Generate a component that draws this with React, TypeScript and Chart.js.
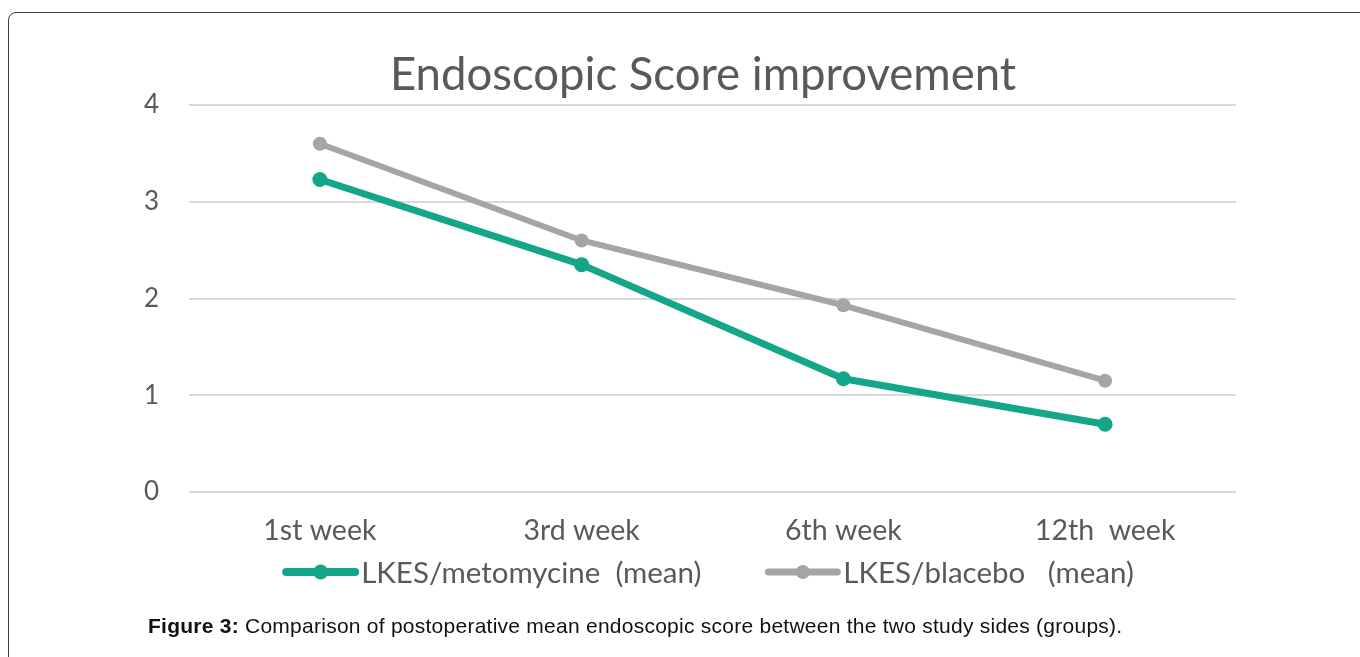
import React, { useEffect, useRef } from "react";
import { Chart, registerables } from "chart.js";

Chart.register(...registerables);

const TITLE = "Endoscopic Score improvement";
const CATEGORIES = ["1st week", "3rd week", "6th week", "12th  week"];
const SERIES_LABELS = ["LKES/metomycine  (mean)", "LKES/blacebo   (mean)"];
const METOMYCINE = [3.23, 2.35, 1.17, 0.7];
const PLACEBO = [3.6, 2.6, 1.93, 1.15];
const Y_TICKS = [0, 1, 2, 3, 4];
const COLORS = ["#13A689", "#A5A5A5"];

const FONT = "Lato, 'Open Sans', sans-serif";
const TEXT = "#595959";

const legendPlugin = {
  id: "lineLegend",
  afterDraw(chart: any) {
    const ctx = chart.ctx as CanvasRenderingContext2D;
    const ds = chart.data.datasets;
    ctx.save();
    ctx.font = `29.5px ${FONT}`;
    const markerW = 77;
    const textGap = 2;
    const itemGap = 63;
    const widths = ds.map((d: any) => markerW + textGap + ctx.measureText(d.label).width);
    const total = widths.reduce((a: number, b: number) => a + b, 0) + itemGap * (ds.length - 1);
    let x = 708 - total / 2;
    const y = chart.chartArea.bottom + 80;
    ds.forEach((d: any, i: number) => {
      ctx.strokeStyle = d.borderColor;
      ctx.lineWidth = d.borderWidth + 1;
      ctx.lineCap = "round";
      ctx.beginPath();
      ctx.moveTo(x + 4, y);
      ctx.lineTo(x + markerW - 4, y);
      ctx.stroke();
      ctx.fillStyle = d.borderColor;
      ctx.beginPath();
      ctx.arc(x + markerW / 2, y, d.pointRadius, 0, Math.PI * 2);
      ctx.fill();
      ctx.fillStyle = TEXT;
      ctx.textBaseline = "middle";
      ctx.textAlign = "left";
      ctx.fillText(d.label, x + markerW + textGap, y + 1);
      x += widths[i] + itemGap;
    });
    ctx.restore();
  },
};

export default function App() {
  const ref = useRef<HTMLCanvasElement | null>(null);

  useEffect(() => {
    if (!ref.current) return;
    const chart = new Chart(ref.current, {
      type: "line",
      data: {
        labels: CATEGORIES,
        datasets: [
          {
            label: SERIES_LABELS[0],
            data: METOMYCINE,
            borderColor: COLORS[0],
            backgroundColor: COLORS[0],
            borderWidth: 7,
            pointRadius: 7.5,
            pointBorderWidth: 0,
            borderCapStyle: "round",
            borderJoinStyle: "round",
            tension: 0,
          },
          {
            label: SERIES_LABELS[1],
            data: PLACEBO,
            borderColor: COLORS[1],
            backgroundColor: COLORS[1],
            borderWidth: 6,
            pointRadius: 7,
            pointBorderWidth: 0,
            borderCapStyle: "round",
            borderJoinStyle: "round",
            tension: 0,
          },
        ],
      },
      options: {
        animation: false,
        responsive: false,
        layout: { padding: { left: 140, right: 94, top: 0, bottom: 70 } },
        plugins: {
          legend: { display: false },
          tooltip: { enabled: false },
          title: {
            display: true,
            text: TITLE,
            color: TEXT,
            font: { family: FONT, size: 45.5, weight: "normal", lineHeight: 1.2 },
            padding: { top: 48, bottom: 2.4 },
          },
        },
        scales: {
          x: {
            offset: true,
            grid: { display: false, drawTicks: false },
            border: { display: false },
            ticks: {
              color: TEXT,
              padding: 22,
              maxRotation: 0,
              font: { family: FONT, size: 28.5 },
            },
            afterFit(scale: any) {
              scale.height = 58;
            },
          },
          y: {
            min: 0,
            max: 4,
            afterBuildTicks(scale: any) {
              scale.ticks = Y_TICKS.map((v) => ({ value: v }));
            },
            grid: { color: "#D9D9D9", lineWidth: 2, drawTicks: false },
            border: { display: false },
            ticks: {
              color: TEXT,
              padding: 30,
              font: { family: FONT, size: 26 },
            },
            afterFit(scale: any) {
              scale.width = 49;
            },
          },
          yRightSpace: {
            type: "linear",
            position: "right",
            display: true,
            grid: { display: false, drawTicks: false },
            border: { display: false },
            ticks: { display: false },
            afterFit(scale: any) {
              scale.width = 30;
            },
          },
        },
      },
      plugins: [legendPlugin],
    });
    return () => chart.destroy();
  }, []);

  return (
    <div
      style={{
        position: "absolute",
        left: 0,
        top: 0,
        width: 1360,
        height: 657,
        overflow: "hidden",
        background: "#fff",
      }}
    >
      <div
        style={{
          position: "absolute",
          left: 8,
          top: 12,
          width: 1400,
          height: 700,
          border: "1.5px solid #404040",
          borderRadius: 8,
          boxSizing: "border-box",
        }}
      />
      <canvas
        ref={ref}
        width={1360}
        height={620}
        style={{ position: "absolute", left: 0, top: 0, width: 1360, height: 620 }}
      />
      <div
        style={{
          position: "absolute",
          left: 148,
          top: 614,
          fontFamily: "'Liberation Sans', Arial, sans-serif",
          fontSize: 21,
          lineHeight: "24px",
          letterSpacing: "0.25px",
          color: "#111",
          whiteSpace: "nowrap",
        }}
      >
        <b>Figure 3:</b> Comparison of postoperative mean endoscopic score between the two study sides (groups).
      </div>
    </div>
  );
}
